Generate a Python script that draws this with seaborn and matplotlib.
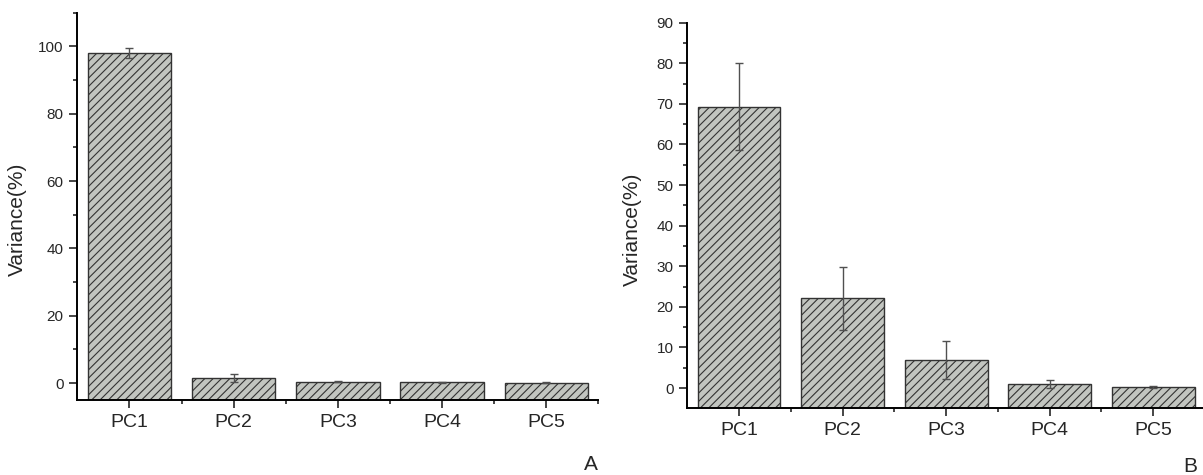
import numpy as np
import pandas as pd
import matplotlib
matplotlib.use("Agg")
import matplotlib.pyplot as plt
import seaborn as sns

# Data
components = ["PC1", "PC2", "PC3", "PC4", "PC5"]
variance_a = [98.0, 1.5, 0.4, 0.3, 0.15]
error_a = [1.5, 1.3, 0.2, 0.15, 0.05]
variance_b = [69.3, 22.1, 6.9, 1.0, 0.3]
error_b = [10.7, 7.7, 4.6, 1.0, 0.3]

# Theme
sns.set_style("ticks")
plt.rcParams["font.family"] = ["Liberation Sans", "DejaVu Sans"]
plt.rcParams["hatch.linewidth"] = 0.8

BAR_FILL = "#c2c6bf"
BAR_EDGE = "#333333"
ERR_COLOR = "#505050"


def draw_panel(ax, values, errors, ylim, major, ylabel_pos):
    df = pd.DataFrame({"component": components, "variance": values})
    sns.barplot(data=df, x="component", y="variance", color=BAR_FILL,
                edgecolor=BAR_EDGE, linewidth=1.0, hatch="////",
                errorbar=None, width=0.8, ax=ax)
    # Origin style: bars start at the bottom of the axis, not at zero
    for patch, v in zip(ax.patches, values):
        patch.set_y(ylim[0])
        patch.set_height(v - ylim[0])

    ax.errorbar(np.arange(len(components)), values, yerr=errors, fmt="none",
                ecolor=ERR_COLOR, elinewidth=1.0, capsize=3, capthick=1.0)

    ax.set_xlim(-0.5, len(components) - 0.5)
    ax.set_ylim(*ylim)
    top = int(ylim[1] // major * major)
    ax.set_yticks(np.arange(0, top + 1, major))
    ax.set_yticks(np.arange(major / 2, ylim[1] + 0.01, major / 2), minor=True)
    ax.set_xticks(np.arange(0.5, len(components), 1.0), minor=True)

    ax.set_xlabel("")
    ax.set_ylabel("Variance(%)", fontsize=15)
    ax.yaxis.set_label_coords(*ylabel_pos)

    for side in ["top", "right"]:
        ax.spines[side].set_visible(False)
    for side in ["left", "bottom"]:
        ax.spines[side].set_linewidth(1.4)
        ax.spines[side].set_color("black")

    ax.tick_params(axis="y", which="major", direction="out", length=6,
                   width=1.2, labelsize=11, pad=4)
    ax.tick_params(axis="y", which="minor", direction="out", length=3,
                   width=1.2)
    ax.tick_params(axis="x", which="major", direction="out", length=6,
                   width=1.2, labelsize=14, pad=4)
    ax.tick_params(axis="x", which="minor", direction="out", length=3,
                   width=1.2)


fig = plt.figure(figsize=(12.03, 4.75), dpi=100)
ax_a = fig.add_axes([0.0643, 0.1579, 0.4331, 0.8154])
ax_b = fig.add_axes([0.5713, 0.1404, 0.4303, 0.8118])

draw_panel(ax_a, variance_a, error_a, (-5, 110), 20, (-0.097, 0.467))
draw_panel(ax_b, variance_b, error_b, (-5, 90), 10, (-0.088, 0.465))

fig.text(591 / 1203, 1 - 465 / 475, "A", fontsize=15, ha="center", va="center")
fig.text(1190 / 1203, 1 - 466 / 475, "B", fontsize=15, ha="center", va="center")

fig.savefig("out.png", dpi=100)
